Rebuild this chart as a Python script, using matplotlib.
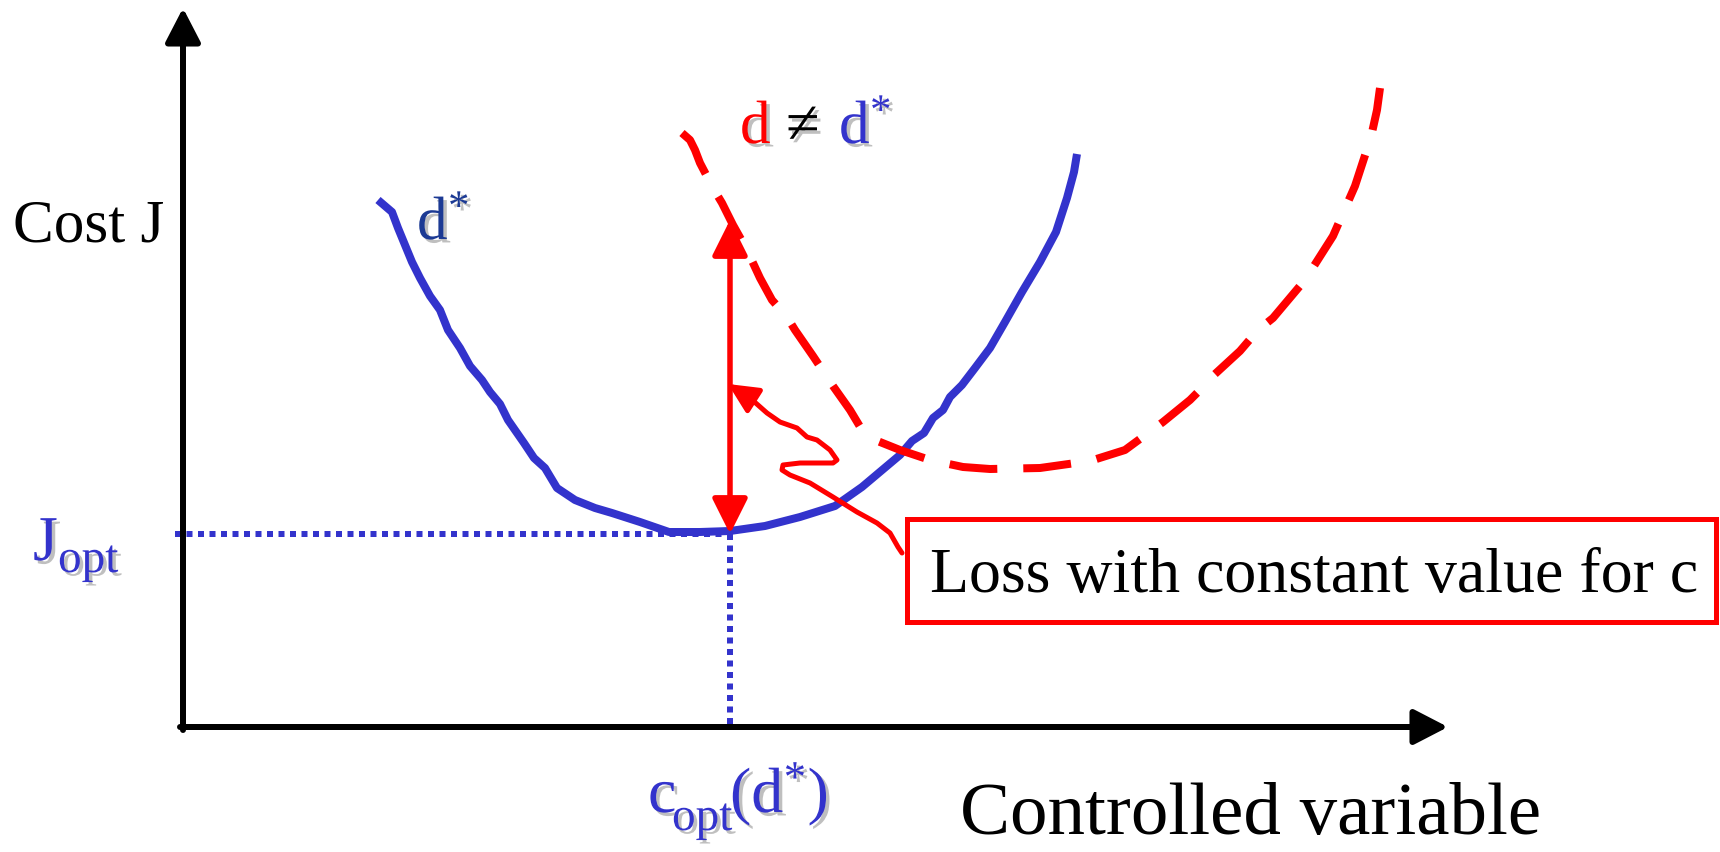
import matplotlib
matplotlib.use("Agg")
import matplotlib.pyplot as plt
import matplotlib.patheffects as pe
from matplotlib.patches import Rectangle

plt.rcParams["font.family"] = ["Liberation Serif", "DejaVu Serif"]
plt.rcParams["mathtext.fontset"] = "custom"
plt.rcParams["mathtext.rm"] = "Liberation Serif"
plt.rcParams["mathtext.it"] = "Liberation Serif:italic"
plt.rcParams["lines.scale_dashes"] = False

# cost curve for the nominal disturbance d*  (controlled variable, cost J)
c_nominal = [195, 209, 215, 222, 229, 237, 247, 257, 265, 277, 287, 299, 307, 317,
             325, 341, 351, 362, 374, 392, 412, 429, 457, 486, 517, 547, 582, 617,
             652, 679, 717, 729, 741, 750, 760, 767, 779, 792, 807, 822, 839, 857,
             873, 884, 891, 894]
J_nominal = [527, 515, 499, 482, 465, 449, 431, 417, 397, 379, 361, 347, 335, 323,
             307, 284, 269, 259, 239, 227, 219, 214, 205, 195, 195, 196, 201, 210,
             221, 240, 272, 286, 294, 309, 317, 330, 342, 359, 379, 405, 435, 465,
             495, 529, 555, 573]

# cost curve for d != d*
c_other = [499, 507, 512, 517, 530, 539, 550, 564, 577, 589, 604, 612, 630, 650,
           667, 679, 692, 717, 747, 780, 807, 857, 907, 942, 980, 1007, 1022, 1032,
           1057, 1075, 1090, 1122, 1150, 1172, 1188, 1194, 1197]
J_other = [594, 587, 577, 564, 539, 524, 502, 477, 449, 427, 410, 397, 371, 341,
           317, 297, 287, 277, 267, 260, 258, 259, 266, 277, 305, 327, 342, 353,
           376, 397, 409, 447, 491, 541, 590, 617, 639]

# hand drawn pointer from the label box to the loss arrow
c_pointer = [719, 715, 707, 694, 674, 650, 627, 607, 599, 600, 617, 650, 654, 647,
             634, 624, 614, 597, 584, 567]
J_pointer = [174, 180, 194, 204, 215, 230, 244, 252, 257, 262, 264, 264, 267, 277,
             287, 290, 299, 305, 314, 329]
pointer_tip = (545, 343)

c_opt = 547
J_opt = 193
J_loss = 507
x_end = 1265
y_end = 719

BLUE = "#3333CC"
NAVY = "#1C3A94"
RED = "#FF0000"

fig = plt.figure(figsize=(17.2, 8.52), dpi=100)
ax = fig.add_axes([0, 0, 1, 1])
ax.set_xlim(-183, 1537)
ax.set_ylim(-125, 727)
ax.axis("off")

px = 72 / 100  # pixel -> points

# axes with arrow heads
axis_style = f"-|>,head_length={29 * px},head_width={15 * px}"
ax.annotate("", xy=(0, y_end), xytext=(0, -3),
            arrowprops=dict(arrowstyle=axis_style, color="black", lw=6 * px,
                            mutation_scale=1, shrinkA=0, shrinkB=0))
ax.annotate("", xy=(x_end, 0), xytext=(-3, 0),
            arrowprops=dict(arrowstyle=axis_style, color="black", lw=6 * px,
                            mutation_scale=1, shrinkA=0, shrinkB=0))

# dotted guide lines at the optimum
ax.plot([-8, c_opt], [J_opt, J_opt], color=BLUE, lw=6 * px,
        dashes=(6 * px, 5.5 * px), dash_capstyle="butt")
ax.plot([c_opt, c_opt], [J_opt, 3], color=BLUE, lw=6 * px,
        dashes=(6 * px, 5.5 * px), dash_capstyle="butt")

# cost curves
ax.plot(c_nominal, J_nominal, color=BLUE, lw=8 * px, solid_capstyle="butt",
        solid_joinstyle="round")
ax.plot(c_other, J_other, color=RED, lw=8 * px, dashes=(48 * px, 26 * px),
        dash_capstyle="butt", dash_joinstyle="round")

# loss double arrow
ax.annotate("", xy=(c_opt, J_loss), xytext=(c_opt, J_opt),
            arrowprops=dict(arrowstyle=f"<|-|>,head_length={30 * px},head_width={15 * px}",
                            color=RED, lw=5.5 * px, mutation_scale=1,
                            shrinkA=0, shrinkB=0))

# pointer squiggle
ax.plot(c_pointer, J_pointer, color=RED, lw=5 * px, solid_capstyle="round",
        solid_joinstyle="round")
ax.annotate("", xy=pointer_tip, xytext=(c_pointer[-1], J_pointer[-1]),
            arrowprops=dict(arrowstyle=f"-|>,head_length={25 * px},head_width={12 * px}",
                            color=RED, lw=5 * px, mutation_scale=1,
                            shrinkA=0, shrinkB=0))

# label box
ax.add_patch(Rectangle((724, 105), 809, 103, fill=False, edgecolor=RED,
                       lw=5 * px))
ax.text(747, 157, "Loss with constant value for c", fontsize=46,
        ha="left", va="center_baseline", color="black")

shadow = [pe.withSimplePatchShadow(offset=(2.5, -2.5), shadow_rgbFace="#b0b0b0",
                                   alpha=0.8)]

ax.text(-170, 486, "Cost J", fontsize=44, ha="left", va="baseline")
ax.text(777, -107, "Controlled variable", fontsize=54, ha="left", va="baseline")

ax.text(234, 488, r"$\mathrm{d}^{\mathrm{*}}$", fontsize=44, color=NAVY,
        ha="left", va="baseline", path_effects=shadow)

ax.text(557, 584, "d", fontsize=44, color=RED, ha="left", va="baseline",
        path_effects=shadow)
ax.text(603, 584, "\u2260", fontsize=44, color="black", ha="left", va="baseline",
        path_effects=shadow)
ax.text(656, 584, r"$\mathrm{d}^{\mathrm{*}}$", fontsize=44, color=BLUE,
        ha="left", va="baseline", path_effects=shadow)

# J_opt with a large, low subscript
ax.text(-150, 167, "J", fontsize=46, color=BLUE, ha="left", va="baseline",
        path_effects=shadow)
ax.text(-125, 155, "opt", fontsize=34, color=BLUE, ha="left", va="baseline",
        path_effects=shadow)

# c_opt(d*)
ax.text(465, -85, "c", fontsize=46, color=BLUE, ha="left", va="baseline",
        path_effects=shadow)
ax.text(489, -103, "opt", fontsize=34, color=BLUE, ha="left", va="baseline",
        path_effects=shadow)
ax.text(547, -85, r"$(\mathrm{d}^{\mathrm{*}})$", fontsize=46, color=BLUE,
        ha="left", va="baseline", path_effects=shadow)

fig.savefig("out.png", dpi=100)
